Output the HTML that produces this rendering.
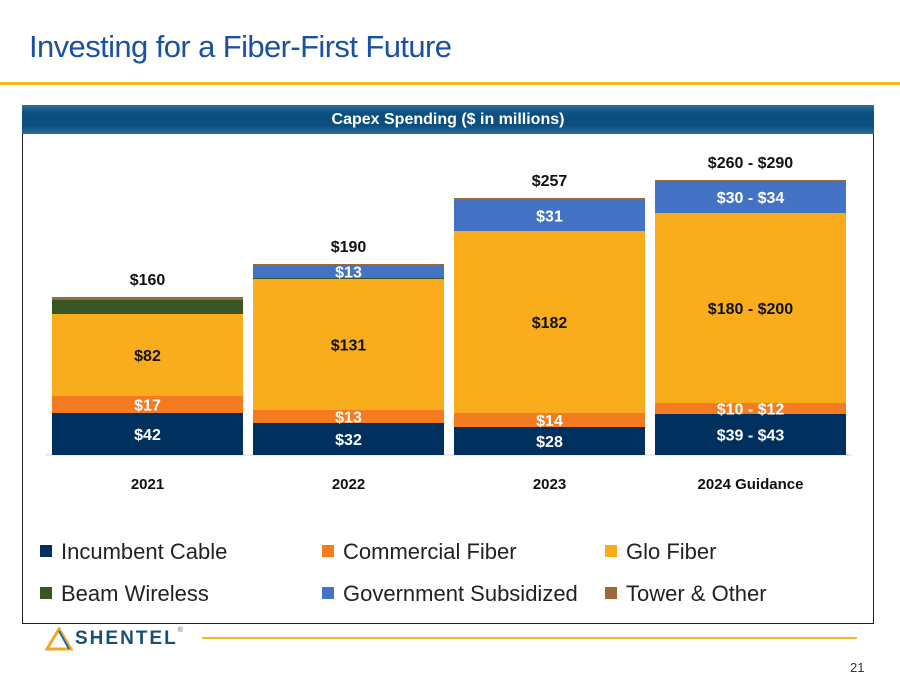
<!DOCTYPE html>
<html><head><meta charset="utf-8"><style>
body{margin:0;width:900px;height:684px;background:#fff;position:relative;overflow:hidden;font-family:"Liberation Sans",sans-serif}
.abs{position:absolute}
</style></head><body>
<div class="abs" style="left:29px;top:29px;font-size:31px;color:#1b52a0;letter-spacing:-0.6px">Investing for a Fiber-First Future</div>
<div class="abs" style="left:0;top:82px;width:900px;height:3px;background:#f5b820"></div>
<div class="abs" style="left:22px;top:105px;width:852px;height:29px;background:linear-gradient(#2a6d9c,#0c4f7f 30%,#0c4f7f 70%,#2a6d9c);color:#fff;font-weight:bold;font-size:16px;text-align:center;line-height:29px">Capex Spending ($ in millions)</div>
<div class="abs" style="left:22px;top:134px;width:850px;height:489px;border:1px solid #222;border-top:none"></div>
<svg class="abs" style="left:0;top:0" width="900" height="684" id="chart"></svg>
<div class="abs" style="left:45px;top:627px;height:24px;display:flex;align-items:center">
<svg width="28" height="24"><polygon points="14,2 26,22 2,22" fill="none" stroke="#f5a623" stroke-width="3"/><line x1="14" y1="4" x2="24" y2="22" stroke="#1d6fa3" stroke-width="2"/></svg>
<span style="font-weight:bold;font-size:19px;color:#1a4f73;letter-spacing:2px;margin-left:2px">SHENTEL</span><span style="font-size:7px;color:#555;align-self:flex-start">®</span></div>
<div class="abs" style="left:202px;top:637px;width:655px;height:2px;background:#f5b820"></div>
<div class="abs" style="left:850px;top:660px;font-size:13px;color:#333">21</div>
<script>
const categories=["2021","2022","2023","2024 Guidance"];
const seriesNames=["Incumbent Cable","Commercial Fiber","Glo Fiber","Beam Wireless","Government Subsidized","Tower & Other"];
const colors=["#00305e","#f47b20","#f9ad1c","#375623","#4472c4","#9c6a3a"];
const incumbent=[42,32,28,41];
const commercial=[17,13,14,11];
const glo=[82,131,182,190];
const beam=[14,1,0,0];
const gov=[0,13,31,32];
const tower=[3,1,2,1];
const segLabels=[["$42","$17","$82","","",""],["$32","$13","$131","","$13",""],["$28","$14","$182","","$31",""],["$39 - $43","$10 - $12","$180 - $200","","$30 - $34",""]];
const totalLabels=["$160","$190","$257","$260 - $290"];
const series=[incumbent,commercial,glo,beam,gov,tower];
const svg=document.getElementById('chart');const NS="http://www.w3.org/2000/svg";
const base=455,scale=1.0,x0=52,step=201,bw=191;
const y=v=>base-v*scale;const xc=i=>x0+i*step;
function mk(t,a){const e=document.createElementNS(NS,t);for(const k in a)e.setAttribute(k,a[k]);svg.appendChild(e);return e;}
const ax=mk('line',{x1:45,x2:852,y1:base,y2:base,stroke:'#d9d9d9'});


categories.forEach((c,i)=>{let cum=0;
 series.forEach((s,j)=>{const v=s[i];if(v<=0){return;}
  const r=mk('rect',{x:xc(i),y:y(cum+v),width:bw,height:v*scale,fill:colors[j]});
  
  
  const l=segLabels[i][j];
  if(l){const t=mk('text',{x:xc(i)+bw/2,y:y(cum+v/2)+6,'text-anchor':'middle','font-size':16,'font-weight':'bold',fill:j==2?'#111':'#fff'});t.textContent=l;
   
   }
  cum+=v;});
 const tt=mk('text',{x:xc(i)+bw/2,y:y(cum)-12,'text-anchor':'middle','font-size':16,'font-weight':'bold',fill:'#111'});tt.textContent=totalLabels[i];
 
 
 const cl=mk('text',{x:xc(i)+bw/2,y:489,'text-anchor':'middle','font-size':15,'font-weight':'bold',fill:'#111'});cl.textContent=c;
 
 
});
const lx=[40,322,605],ly=[551,593];
seriesNames.forEach((n,k)=>{const cx=lx[k%3],cy=ly[Math.floor(k/3)];
 const sw=mk('rect',{x:cx,y:cy-6,width:12,height:12,fill:colors[k]});
 
 
 const t=mk('text',{x:cx+21,y:cy+8,'font-size':22,fill:'#222'});t.textContent=n;
 
 
});
</script>
</body></html>
